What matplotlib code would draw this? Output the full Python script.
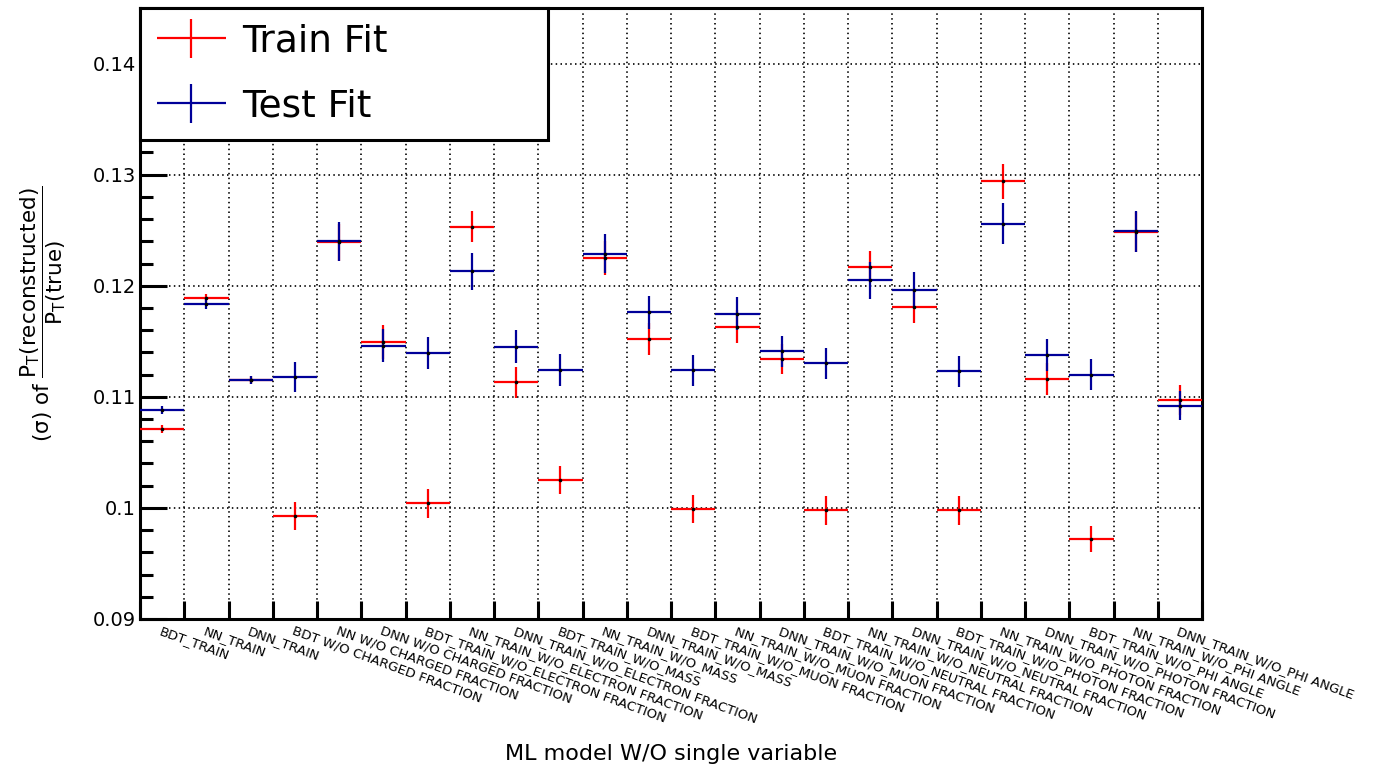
import matplotlib
matplotlib.use("Agg")
import matplotlib.pyplot as plt
import numpy as np
from matplotlib.legend_handler import HandlerErrorbar
from matplotlib.ticker import MultipleLocator, FixedLocator

# Model variants (one bin each)
models = [
    "BDT_TRAIN", "NN_TRAIN", "DNN_TRAIN",
    "BDT W/O CHARGED FRACTION", "NN W/O CHARGED FRACTION", "DNN W/O CHARGED FRACTION",
    "BDT_TRAIN_W/O_ELECTRON FRACTION", "NN_TRAIN_W/O_ELECTRON FRACTION", "DNN_TRAIN_W/O_ELECTRON FRACTION",
    "BDT_TRAIN_W/O_MASS", "NN_TRAIN_W/O_MASS", "DNN_TRAIN_W/O_MASS",
    "BDT_TRAIN_W/O_MUON FRACTION", "NN_TRAIN_W/O_MUON FRACTION", "DNN_TRAIN_W/O_MUON FRACTION",
    "BDT_TRAIN_W/O_NEUTRAL FRACTION", "NN_TRAIN_W/O_NEUTRAL FRACTION", "DNN_TRAIN_W/O_NEUTRAL FRACTION",
    "BDT_TRAIN_W/O_PHOTON FRACTION", "NN_TRAIN_W/O_PHOTON FRACTION", "DNN_TRAIN_W/O_PHOTON FRACTION",
    "BDT_TRAIN_W/O_PHI ANGLE", "NN_TRAIN_W/O_PHI ANGLE", "DNN_TRAIN_W/O_PHI ANGLE",
]

# Fitted resolution on the training sample
train_sigma = [0.1071, 0.1189, 0.1115, 0.0993, 0.1239, 0.1149, 0.1004, 0.1253,
               0.1113, 0.1025, 0.1225, 0.1152, 0.0999, 0.1163, 0.1134, 0.0998,
               0.1217, 0.1181, 0.0998, 0.1294, 0.1116, 0.0972, 0.1248, 0.1097]
train_err = [0.0004, 0.00036, 0.00035, 0.00126, 0.0017, 0.00153, 0.00127, 0.0014,
             0.00138, 0.00127, 0.00153, 0.00144, 0.00123, 0.0015, 0.00138, 0.0013,
             0.0014, 0.00147, 0.0013, 0.00157, 0.00144, 0.0012, 0.0018, 0.00135]

# Fitted resolution on the test sample
test_sigma = [0.1088, 0.1184, 0.1115, 0.1118, 0.1240, 0.1146, 0.1139, 0.1213,
              0.1145, 0.1124, 0.1229, 0.1176, 0.1124, 0.1175, 0.1141, 0.1130,
              0.1205, 0.1196, 0.1123, 0.1256, 0.1138, 0.1120, 0.1249, 0.1092]
test_err = [0.00036, 0.00045, 0.00035, 0.00135, 0.00177, 0.0015, 0.00144, 0.00168,
            0.0015, 0.00144, 0.00174, 0.0015, 0.0014, 0.00147, 0.00138, 0.0014,
            0.00168, 0.0016, 0.0014, 0.00187, 0.00144, 0.00136, 0.00186, 0.00132]

y_ticks = [0.09, 0.10, 0.11, 0.12, 0.13, 0.14]

plt.rcParams["font.family"] = ["DejaVu Sans"]
plt.rcParams["mathtext.fontset"] = "dejavusans"

W, H = 1378, 766
fig = plt.figure(figsize=(W / 100, H / 100), dpi=100)
ax = fig.add_axes([140 / W, 1 - 619 / H, (1202 - 140) / W, (619 - 8) / H])

n = len(models)
centers = np.arange(n) + 0.5
edges = np.arange(n + 1)

RED = "#ff0000"
BLUE = "#000099"

eb_train = ax.errorbar(centers, train_sigma, xerr=0.5, yerr=train_err, fmt="none",
                       ecolor=RED, elinewidth=1.6, capsize=0, label="Train Fit", zorder=3)
eb_test = ax.errorbar(centers, test_sigma, xerr=0.5, yerr=test_err, fmt="none",
                      ecolor=BLUE, elinewidth=1.6, capsize=0, label="Test Fit", zorder=4)
ax.plot(centers, train_sigma, ls="none", marker="o", ms=1.6, color="black", zorder=5)
ax.plot(centers, test_sigma, ls="none", marker="o", ms=1.6, color="black", zorder=5)

ax.set_xlim(0, n)
ax.set_ylim(0.09, 0.145)

# grid
dot = (0, (0.9, 2.0))
for e in edges[1:-1]:
    ax.axvline(e, color="black", lw=1.2, ls=dot, zorder=1)
for yt in y_ticks[1:]:
    ax.axhline(yt, color="black", lw=1.2, ls=dot, zorder=1)

# y axis
ax.yaxis.set_major_locator(FixedLocator(y_ticks))
ax.set_yticklabels(["%g" % v for v in y_ticks])
ax.yaxis.set_minor_locator(MultipleLocator(0.002))
ax.tick_params(axis="y", which="major", direction="in", length=19.5, width=2.2,
               labelsize=14, pad=3, right=False)
ax.tick_params(axis="y", which="minor", direction="in", length=9.5, width=2.2, right=False)

# x axis: ticks on bin edges, labels on bin centres
ax.set_xticks(edges)
ax.set_xticklabels([""] * len(edges))
ax.set_xticks(centers, minor=True)
ax.set_xticklabels(models, minor=True, rotation=-20, ha="left", va="top", fontsize=9.5)
for lbl in ax.get_xticklabels(minor=True):
    lbl.set_rotation_mode("anchor")
ax.tick_params(axis="x", which="major", direction="in", length=13, width=2.2, top=False)
ax.tick_params(axis="x", which="minor", length=0, pad=4, top=False)

for sp in ax.spines.values():
    sp.set_linewidth(2.2)

ax.set_xlabel("ML model W/O single variable", fontsize=16)
ax.xaxis.set_label_coords(0.5, -0.205)
ax.set_ylabel(r"(σ) of $\dfrac{\mathrm{P}_{\mathrm{T}}\mathrm{(reconstructed)}}{\mathrm{P}_{\mathrm{T}}\mathrm{(true)}}$",
              fontsize=15.5)
ax.yaxis.set_label_coords(-0.068, 0.5)

leg = ax.legend(handles=[eb_train, eb_test], labels=["Train Fit", "Test Fit"],
                loc="upper left", bbox_to_anchor=(0.0, 1.0, 408 / 1062, 0.0), mode="expand",
                borderaxespad=0, fontsize=27, frameon=True, fancybox=False,
                edgecolor="black", framealpha=1, handlelength=1.9, handletextpad=0.42,
                borderpad=0.41, labelspacing=0.77,
                handler_map={type(eb_train): HandlerErrorbar(xerr_size=0.92, yerr_size=0.52, numpoints=1)})
leg.get_frame().set_linewidth(2.2)
leg.set_zorder(10)

fig.savefig("out.png", dpi=100, facecolor="white")
